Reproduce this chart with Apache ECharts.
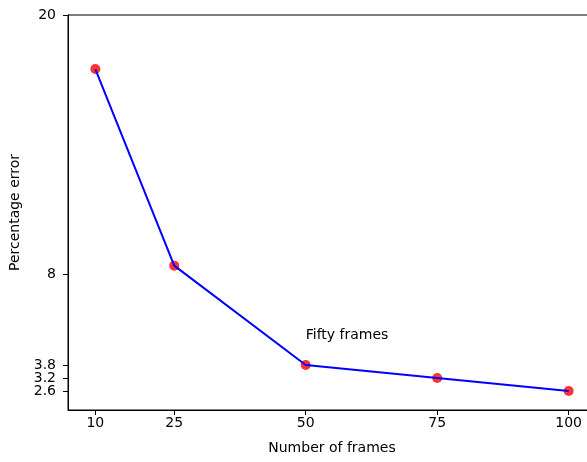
<!DOCTYPE html>
<html>
<head>
<meta charset="utf-8">
<script src="https://cdn.jsdelivr.net/npm/echarts@6/dist/echarts.min.js"></script>
<style>
  html, body { margin: 0; padding: 0; background: #fff; }
  #chart { width: 587px; height: 462px; }
</style>
</head>
<body>
<div id="chart"></div>
<script>
const frames = [10, 25, 50, 75, 100];
const errors = [17.5, 8.4, 3.8, 3.2, 2.6];
const xTicks = [10, 25, 50, 75, 100];
const yTicks = [2.6, 3.2, 3.8, 8, 20];
const annotationText = 'Fifty frames';
const annotationPos = [50, 5];
const xTitle = 'Number of frames';
const yTitle = 'Percentage error';

const points = frames.map((f, i) => [f, errors[i]]);
const font = 'DejaVu Sans';
// split tick labels between two coincident axes so closely spaced labels are not auto-hidden
const yTicksA = yTicks.filter((v, i) => i % 2 === 0);
const yTicksB = yTicks.filter((v, i) => i % 2 === 1);

function yAxisDef(ticks, main) {
  return {
    type: 'value',
    min: 1.72,
    max: 20,
    position: 'left',
    offset: 0,
    name: main ? yTitle : '',
    nameLocation: 'middle',
    nameGap: 39,
    nameTextStyle: { fontFamily: font, fontSize: 14, color: '#000' },
    splitLine: { show: false },
    axisLine: { show: main, lineStyle: { color: '#000', width: 1 } },
    axisTick: { show: true, length: 5, lineStyle: { color: '#000' }, customValues: ticks },
    axisLabel: { fontFamily: font, fontSize: 14, color: '#000', margin: 12, customValues: ticks, hideOverlap: false, showMinLabel: true, showMaxLabel: true }
  };
}

const chart = echarts.init(document.getElementById('chart'), null, { renderer: 'canvas' });
chart.setOption({
  animation: false,
  backgroundColor: '#fff',
  grid: {
    left: 68, top: 15, width: 528, height: 395,
    show: true, borderColor: '#000', borderWidth: 1,
    outerBoundsMode: 'none', containLabel: false
  },
  xAxis: {
    type: 'value',
    min: 4.8,
    max: 105.2,
    name: xTitle,
    nameLocation: 'middle',
    nameGap: 31,
    nameTextStyle: { fontFamily: font, fontSize: 14, color: '#000' },
    splitLine: { show: false },
    axisLine: { show: true, lineStyle: { color: '#000', width: 1 } },
    axisTick: { show: true, length: 5, lineStyle: { color: '#000' }, customValues: xTicks },
    axisLabel: { fontFamily: font, fontSize: 14, color: '#000', margin: 6, customValues: xTicks, hideOverlap: false, showMinLabel: true, showMaxLabel: true }
  },
  yAxis: [yAxisDef(yTicksA, true), yAxisDef(yTicksB, false)],
  series: [
    {
      type: 'scatter',
      data: points,
      symbol: 'circle',
      symbolSize: 10,
      itemStyle: { color: '#ff0000' },
      z: 2
    },
    {
      type: 'line',
      data: points,
      showSymbol: false,
      symbol: 'none',
      lineStyle: { color: '#0000ff', width: 2 },
      z: 3,
      markPoint: {
        symbol: 'circle',
        symbolSize: 0,
        silent: true,
        data: [{
          coord: annotationPos,
          label: {
            show: true,
            formatter: annotationText,
            position: [0, 0],
            align: 'left',
            verticalAlign: 'bottom',
            offset: [0, 3],
            fontFamily: font,
            fontSize: 14,
            color: '#000'
          }
        }]
      }
    }
  ]
});
</script>
</body>
</html>
